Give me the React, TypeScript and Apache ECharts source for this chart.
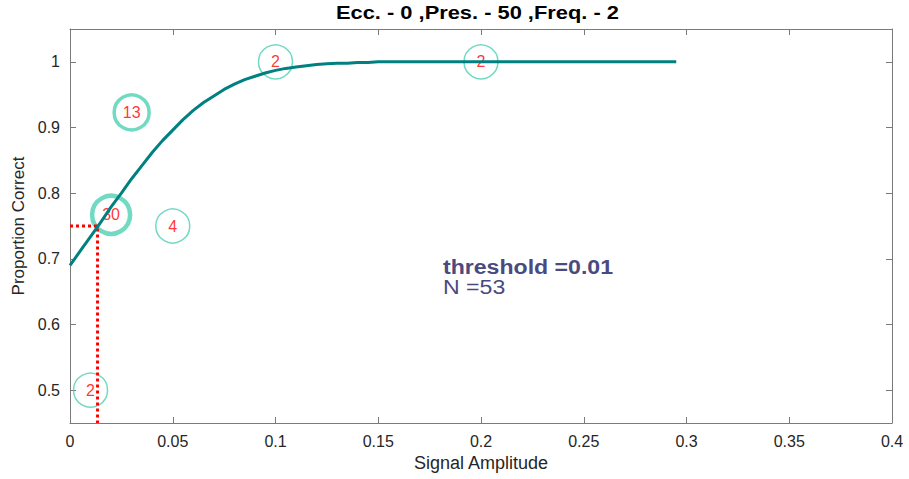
import React, { useEffect, useRef } from "react";
import * as echarts from "echarts";

const titleText = "Ecc. - 0 ,Pres. - 50 ,Freq. - 2";
const xName = "Signal Amplitude";
const yName = "Proportion Correct";

const pointX = [0.01, 0.02, 0.03, 0.05, 0.1, 0.2];
const pointY = [0.5, 0.767, 0.923, 0.75, 1.0, 1.0];
const pointN = [2, 30, 13, 4, 2, 2];

const curveX = [
  0, 0.005, 0.01, 0.015, 0.02, 0.025, 0.03, 0.035, 0.04, 0.045, 0.05, 0.055, 0.06, 0.065, 0.07, 0.075,
  0.08, 0.085, 0.09, 0.095, 0.1, 0.105, 0.11, 0.115, 0.12, 0.125, 0.13, 0.135, 0.14, 0.145, 0.15, 0.2, 0.25, 0.295,
];
const curveY = [
  0.69, 0.712, 0.734, 0.756, 0.779, 0.8, 0.822, 0.842, 0.862, 0.88, 0.896, 0.912, 0.926, 0.938, 0.948, 0.958,
  0.966, 0.973, 0.978, 0.983, 0.987, 0.99, 0.992, 0.994, 0.996, 0.997, 0.998, 0.998, 0.999, 0.999, 1.0, 1.0, 1.0, 1.0,
];

const thresholdX = 0.0134;
const thresholdY = 0.75;
const thresholdLabel = "threshold =0.01";
const nLabel = "N =53";

const yTicks = [0.5, 0.6, 0.7, 0.8, 0.9, 1];

export default function App() {
  const ref = useRef<HTMLDivElement>(null);
  useEffect(() => {
    if (!ref.current) return;
    const chart = echarts.init(ref.current, null, { renderer: "svg" });
    const font = "'Liberation Sans', Arial, Helvetica, sans-serif";
    const axisColor = "#7a7a7a";
    const txtColor = "#262626";
    const ring = "#4fd0b3";
    const scatterData = pointX.map((x, i) => {
      const n = pointN[i];
      const big = n >= 10;
      return {
        value: [x, pointY[i], n],
        symbolSize: n >= 20 ? 38 : big ? 35 : 34,
        itemStyle: {
          color: "rgba(0,0,0,0)",
          borderColor: ring,
          borderWidth: n >= 20 ? 4.5 : big ? 3.5 : 1.5,
        },
      };
    });
    const mkX = (pos: "bottom" | "top", show: boolean) => ({
      type: "value",
      position: pos,
      min: 0,
      max: 0.4,
      interval: 0.05,
      name: show ? xName : "",
      nameLocation: "middle",
      nameGap: 31,
      nameTextStyle: { fontFamily: font, fontSize: 18, color: txtColor },
      axisLine: { show: true, onZero: false, lineStyle: { color: axisColor, width: 1 } },
      axisTick: { show: true, inside: true, length: 6, lineStyle: { color: axisColor } },
      axisLabel: {
        show,
        fontFamily: font,
        fontSize: 16,
        color: txtColor,
        margin: 10,
        formatter: (v: number) => String(Math.round(v * 100) / 100),
      },
      splitLine: { show: false },
    });
    const mkY = (pos: "left" | "right", show: boolean) => ({
      type: "value",
      position: pos,
      min: 0.45,
      max: 1.05,
      name: show ? yName : "",
      nameLocation: "middle",
      nameGap: 36,
      nameRotate: 90,
      nameTextStyle: { fontFamily: font, fontSize: 17, color: txtColor },
      axisLine: { show: true, onZero: false, lineStyle: { color: axisColor, width: 1 } },
      axisTick: { show: true, inside: true, length: 6, customValues: yTicks, lineStyle: { color: axisColor } },
      axisLabel: {
        show,
        fontFamily: font,
        fontSize: 16,
        color: txtColor,
        margin: 10,
        customValues: yTicks,
        formatter: (v: number) => String(Math.round(v * 10) / 10),
      },
      splitLine: { show: false },
    });
    chart.setOption({
      animation: false,
      backgroundColor: "#ffffff",
      grid: { left: 70, right: 17, top: 29, bottom: 56, containLabel: false, outerBoundsMode: "none" },
      xAxis: [mkX("bottom", true), mkX("top", false)],
      yAxis: [mkY("left", true), mkY("right", false)],
      series: [
        {
          type: "scatter",
          data: scatterData,
          z: 2,
          label: {
            show: true,
            position: "inside",
            color: "#ff0000",
            fontFamily: font,
            fontSize: 16,
            formatter: (p: any) => String(p.value[2]),
          },
        },
        {
          type: "line",
          data: [[0, thresholdY], [thresholdX, thresholdY], [thresholdX, 0.45]],
          symbol: "none",
          z: 3,
          lineStyle: { color: "#ff0000", width: 3, type: [3, 3] },
        },
        {
          type: "line",
          data: curveX.map((x, i) => [x, curveY[i]]),
          smooth: false,
          symbol: "none",
          z: 4,
          lineStyle: { color: "#008080", width: 3, join: "round" },
        },
      ],
      graphic: [
        {
          type: "text",
          x: 336,
          y: 3,
          scaleX: 1.15,
          style: { text: titleText, fontFamily: font, fontSize: 19, fontWeight: "bold", fill: "#000" },
        },
        {
          type: "text",
          x: 443,
          y: 256,
          scaleX: 1.1,
          style: { text: thresholdLabel, fontFamily: font, fontSize: 21, fontWeight: "bold", fill: "#4b4a80" },
        },
        {
          type: "text",
          x: 443,
          y: 276,
          scaleX: 1.1,
          style: { text: nLabel, fontFamily: font, fontSize: 21, fill: "#4b4a80" },
        },
      ],
    });
    return () => chart.dispose();
  }, []);
  return (
    <div
      ref={ref}
      style={{ position: "fixed", left: 0, top: 0, width: 909, height: 479 }}
    />
  );
}
